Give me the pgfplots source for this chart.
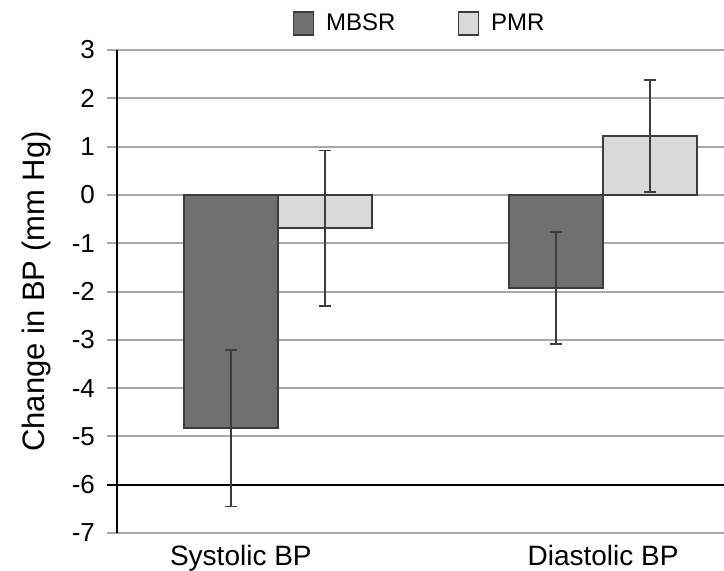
\documentclass[border=0pt]{standalone}
\usepackage{pgfplots}
\pgfplotsset{compat=1.18}
\usepackage{fontspec}
\setmainfont{Liberation Sans}
\definecolor{mbsr}{HTML}{707070}
\definecolor{pmr}{HTML}{D9D9D9}
\definecolor{edge}{HTML}{3C3C3C}
\definecolor{gridc}{HTML}{A8A8A8}
\begin{document}
\begin{tikzpicture}
\begin{axis}[
  scale only axis, width=303.5pt, height=241.5pt,
  xmin=-0.495, xmax=1.372, ymin=-7, ymax=3,
  ybar=0pt, bar width=47pt,
  axis y line*=left, separate axis lines,
  x axis line style={draw=none},
  y axis line style={black, line width=1pt},
  ytick={-7,-6,-5,-4,-3,-2,-1,0,1,2,3},
  yticklabels={-7,-6,-5,-4,-3,-2,-1,0,1,2,3},
  ymajorgrids, grid style={gridc, line width=1pt},
  ytick style={gridc, line width=1pt},
  major tick length=5pt, tick align=outside,
  xtick={-0.114,1}, xticklabels={Systolic BP, Diastolic BP},
  xtick style={draw=none},
  extra y ticks={-6}, extra y tick labels={},
  extra y tick style={grid style={black, line width=1pt}, ytick style={black, line width=1pt}},
  yticklabel style={font=\fontsize{13}{15}\selectfont, xshift=-2.5pt},
  xticklabel style={font=\fontsize{14}{16}\selectfont, yshift=2.5pt},
  ylabel={Change in BP (mm Hg)},
  every axis y label/.style={at={(axis description cs:-0.133,0.5)}, rotate=90, anchor=center,
    font=\fontsize{15.5}{17}\selectfont},
  legend columns=2,
  legend style={at={(0.5,1)}, anchor=center, yshift=13.25pt, draw=none, fill=none,
    font=\fontsize{12}{14}\selectfont,
    /tikz/every odd column/.append style={column sep=4pt},
    /tikz/every even column/.append style={column sep=29pt}},
  legend image code/.code={\draw[#1] (0pt,-5.75pt) rectangle (10pt,5.75pt);},
]
\addplot[fill=mbsr, draw=edge, line width=0.8pt,
  error bars/.cd, y dir=both, y explicit,
  error bar style={edge, line width=0.8pt},
  error mark options={rotate=90, mark size=3pt, edge, line width=0.8pt}]
  table[x=x, y=y, y error=e] {
x y e
0 -4.83 1.62
1 -1.93 1.16
};
\addplot[fill=pmr, draw=edge, line width=0.8pt,
  error bars/.cd, y dir=both, y explicit,
  error bar style={edge, line width=0.8pt},
  error mark options={rotate=90, mark size=3pt, edge, line width=0.8pt}]
  table[x=x, y=y, y error=e] {
x y e
0 -0.69 1.61
1 1.22 1.16
};
\legend{MBSR, PMR}
\end{axis}
\pgfresetboundingbox
\path[use as bounding box] ([xshift=-58.5pt,yshift=-18.5pt]current axis.south west) rectangle ([yshift=25pt]current axis.north east);
\end{tikzpicture}
\end{document}
